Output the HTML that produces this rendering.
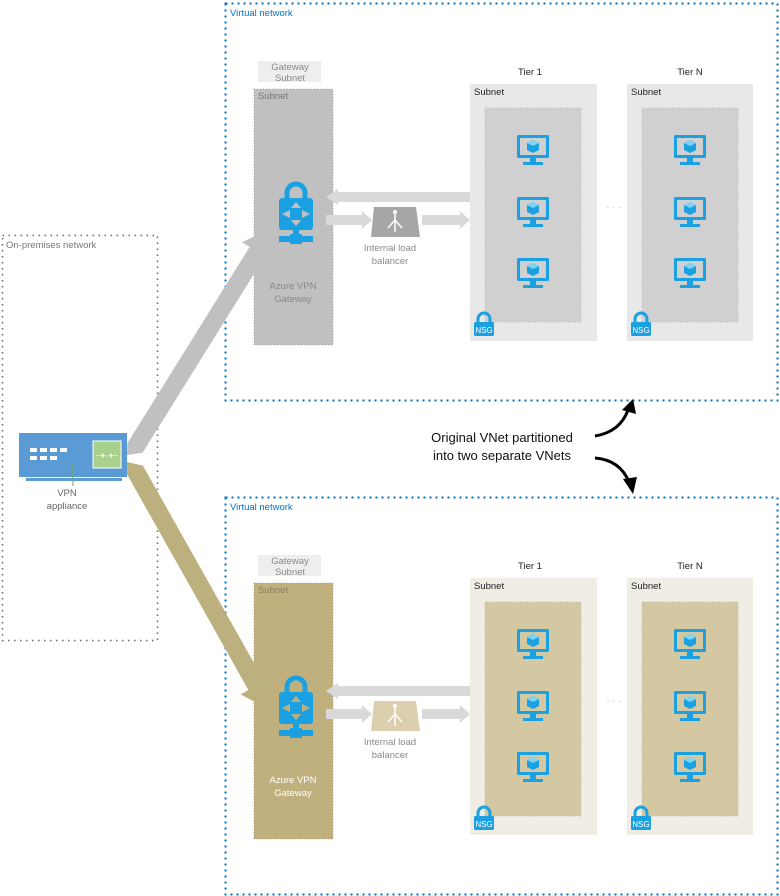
<!DOCTYPE html>
<html><head><meta charset="utf-8"><style>
html,body{margin:0;padding:0;background:#fff}
svg{display:block;font-family:"Liberation Sans",sans-serif}
</style></head><body>
<svg width="780" height="896" viewBox="0 0 780 896" xmlns="http://www.w3.org/2000/svg">
<defs>
<g id="vm">
  <rect x="-16" y="-13" width="32" height="23" rx="1.5" fill="#1ba1e2"/>
  <rect x="-13" y="-10" width="26" height="17" fill="var(--bg,#d0d0d0)"/>
  <polygon points="0,-8 6,-5 6,2 0,5 -6,2 -6,-5" fill="#1ba1e2"/>
  <polygon points="0,-8 6,-5 0,-2 -6,-5" fill="#7fd3f7"/>
  <rect x="-3" y="10" width="6" height="4" fill="#1ba1e2"/>
  <rect x="-10" y="14" width="20" height="3" fill="#1ba1e2"/>
</g>
<g id="nsg">
  <path d="M4,10 v-4 a6,6 0 0 1 12,0 v4" fill="none" stroke="#1ba1e2" stroke-width="3"/>
  <rect x="0" y="9" width="20" height="14" rx="1.5" fill="#1ba1e2"/>
  <text x="10" y="20" font-size="8" fill="#fff" text-anchor="middle">NSG</text>
</g>
<g id="vpngw">
  <path d="M-9,-16 v-6 a9,9 0 0 1 18,0 v6" fill="none" stroke="#1ba1e2" stroke-width="5"/>
  <rect x="-17" y="-17" width="34" height="32" rx="3" fill="#1ba1e2"/>
  <polygon points="0,-13 5,-7 -5,-7" fill="var(--gw,#c0c0c0)"/>
  <polygon points="0,11 5,5 -5,5" fill="var(--gw,#c0c0c0)"/>
  <polygon points="-14,-1 -6,-5 -6,3" fill="var(--gw,#c0c0c0)"/>
  <polygon points="14,-1 6,-5 6,3" fill="var(--gw,#c0c0c0)"/>
  <rect x="-3" y="15" width="6" height="6" fill="#1ba1e2"/>
  <rect x="-17" y="21" width="34" height="6" fill="#1ba1e2"/>
  <rect x="-6" y="19" width="12" height="10" fill="#1ba1e2"/>
</g>
</defs>

<!-- On-prem -->
<rect x="2.5" y="235.5" width="155" height="405" fill="none" stroke="#666" stroke-width="1.5" stroke-dasharray="1.5 4.5"/>
<text x="6" y="248" font-size="9.5" fill="#777">On-premises network</text>
<rect x="19" y="433" width="108" height="44" fill="#5b9bd5"/>
<rect x="26" y="478" width="96" height="3" fill="#5b9bd5"/>
<rect x="93" y="441" width="28" height="27" fill="#a9d18e" stroke="#fff" stroke-width="1"/>
<text x="107" y="459" font-size="11" fill="#fff" text-anchor="middle">⇢·⇠</text>
<g fill="#fff">
<rect x="30" y="448" width="7" height="4"/><rect x="40" y="448" width="7" height="4"/><rect x="50" y="448" width="7" height="4"/><rect x="60" y="448" width="7" height="4"/>
<rect x="30" y="456" width="7" height="4"/><rect x="40" y="456" width="7" height="4"/><rect x="50" y="456" width="7" height="4"/>
</g>
<line x1="73" y1="463" x2="73" y2="486" stroke="#70ad47" stroke-width="1"/>
<text x="67" y="496" font-size="9.5" fill="#666" text-anchor="middle">VPN</text>
<text x="67" y="509" font-size="9.5" fill="#666" text-anchor="middle">appliance</text>

<!-- VNets -->
<g id="top">
<rect x="225.5" y="3.5" width="552" height="397" fill="none" stroke="#0072c6" stroke-width="2" stroke-dasharray="2 4"/>
<text x="230" y="16" font-size="9.5" fill="#0072c6">Virtual network</text>
<rect x="258" y="61" width="63" height="21" fill="#eeeeee"/>
<text x="290" y="70" font-size="9.5" fill="#888" text-anchor="middle">Gateway</text>
<text x="290" y="81" font-size="9.5" fill="#888" text-anchor="middle">Subnet</text>
<rect x="254" y="89" width="79" height="256" fill="#c0c0c0" stroke="#999" stroke-width="0.8" stroke-dasharray="1 2"/>
<text x="258" y="99" font-size="9.5" fill="#777">Subnet</text>
<use href="#vpngw" x="296" y="215" style="--gw:#c0c0c0"/>
<text x="293" y="289" font-size="9.5" fill="#888" text-anchor="middle">Azure VPN</text>
<text x="293" y="302" font-size="9.5" fill="#888" text-anchor="middle">Gateway</text>
<rect x="470" y="84" width="127" height="257" fill="#e8e8e8"/>
<rect x="627" y="84" width="126" height="257" fill="#e8e8e8"/>
<polygon points="470,192 338,192 338,189 326,197 338,205 338,202 470,202" fill="#d9d9d9"/>
<polygon points="326,215 362,215 362,211 372,220 362,229 362,225 326,225" fill="#d9d9d9"/>
<polygon points="422,215 460,215 460,211 470,220 460,229 460,225 422,225" fill="#d9d9d9"/>
<polygon points="374,207 416,207 420,237 371,237" fill="#a6a6a6"/>
<g stroke="#fff" stroke-width="1.5" fill="none"><line x1="395" y1="212" x2="395" y2="232"/><line x1="395" y1="220" x2="388" y2="228"/><line x1="395" y1="220" x2="402" y2="228"/></g>
<circle cx="395" cy="212" r="2" fill="#fff"/>
<text x="390" y="251" font-size="9.5" fill="#888" text-anchor="middle">Internal load</text>
<text x="390" y="264" font-size="9.5" fill="#888" text-anchor="middle">balancer</text>
<text x="530" y="75" font-size="9.5" fill="#222" text-anchor="middle">Tier 1</text>
<text x="690" y="75" font-size="9.5" fill="#222" text-anchor="middle">Tier N</text>
<text x="474" y="95" font-size="9.5" fill="#222">Subnet</text>
<text x="631" y="95" font-size="9.5" fill="#222">Subnet</text>
<rect x="485" y="108" width="96" height="214" fill="#d0d0d0" stroke="#c0c0d0" stroke-width="0.8" stroke-dasharray="3 2"/>
<rect x="642" y="108" width="96" height="214" fill="#d0d0d0" stroke="#c0c0d0" stroke-width="0.8" stroke-dasharray="3 2"/>
<g style="--bg:#d0d0d0">
<use href="#vm" x="533" y="148"/><use href="#vm" x="533" y="210"/><use href="#vm" x="533" y="271"/>
<use href="#vm" x="690" y="148"/><use href="#vm" x="690" y="210"/><use href="#vm" x="690" y="271"/>
</g>
<use href="#nsg" x="474" y="313"/><use href="#nsg" x="631" y="313"/>
<text x="614" y="210" font-size="10" fill="#bbb" text-anchor="middle">· · ·</text>
</g>

<g transform="translate(0,494)">
<rect x="225.5" y="3.5" width="552" height="397" fill="none" stroke="#0072c6" stroke-width="2" stroke-dasharray="2 4"/>
<text x="230" y="16" font-size="9.5" fill="#0072c6">Virtual network</text>
<rect x="258" y="61" width="63" height="21" fill="#eeeeee"/>
<text x="290" y="70" font-size="9.5" fill="#888" text-anchor="middle">Gateway</text>
<text x="290" y="81" font-size="9.5" fill="#888" text-anchor="middle">Subnet</text>
<rect x="254" y="89" width="79" height="256" fill="#bfb07e" stroke="#999" stroke-width="0.8" stroke-dasharray="1 2"/>
<text x="258" y="99" font-size="9.5" fill="#8a7f5a">Subnet</text>
<use href="#vpngw" x="296" y="215" style="--gw:#bfb07e"/>
<text x="293" y="289" font-size="9.5" fill="#fff" text-anchor="middle">Azure VPN</text>
<text x="293" y="302" font-size="9.5" fill="#fff" text-anchor="middle">Gateway</text>
<rect x="470" y="84" width="127" height="257" fill="#f0ede4"/>
<rect x="627" y="84" width="126" height="257" fill="#f0ede4"/>
<polygon points="470,192 338,192 338,189 326,197 338,205 338,202 470,202" fill="#d9d9d9"/>
<polygon points="326,215 362,215 362,211 372,220 362,229 362,225 326,225" fill="#d9d9d9"/>
<polygon points="422,215 460,215 460,211 470,220 460,229 460,225 422,225" fill="#d9d9d9"/>
<polygon points="374,207 416,207 420,237 371,237" fill="#dccfae"/>
<g stroke="#fff" stroke-width="1.5" fill="none"><line x1="395" y1="212" x2="395" y2="232"/><line x1="395" y1="220" x2="388" y2="228"/><line x1="395" y1="220" x2="402" y2="228"/></g>
<circle cx="395" cy="212" r="2" fill="#fff"/>
<text x="390" y="251" font-size="9.5" fill="#888" text-anchor="middle">Internal load</text>
<text x="390" y="264" font-size="9.5" fill="#888" text-anchor="middle">balancer</text>
<text x="530" y="75" font-size="9.5" fill="#222" text-anchor="middle">Tier 1</text>
<text x="690" y="75" font-size="9.5" fill="#222" text-anchor="middle">Tier N</text>
<text x="474" y="95" font-size="9.5" fill="#222">Subnet</text>
<text x="631" y="95" font-size="9.5" fill="#222">Subnet</text>
<rect x="485" y="108" width="96" height="214" fill="#d3c8a2" stroke="#c0c0c0" stroke-width="0.8" stroke-dasharray="3 2"/>
<rect x="642" y="108" width="96" height="214" fill="#d3c8a2" stroke="#c0c0c0" stroke-width="0.8" stroke-dasharray="3 2"/>
<g style="--bg:#d3c8a2">
<use href="#vm" x="533" y="148"/><use href="#vm" x="533" y="210"/><use href="#vm" x="533" y="271"/>
<use href="#vm" x="690" y="148"/><use href="#vm" x="690" y="210"/><use href="#vm" x="690" y="271"/>
</g>
<use href="#nsg" x="474" y="313"/><use href="#nsg" x="631" y="313"/>
<text x="614" y="210" font-size="10" fill="#bbb" text-anchor="middle">· · ·</text>
</g>

<!-- Big arrows -->
<polygon points="142.6,452.8 264.8,256.6 272.5,261.3 272,228 241.9,242.3 249.6,247 127.4,443.2 127,455" fill="#c0c0c0"/>
<polygon points="142.9,465.6 264.2,681.2 272,676.8 270,710 240.6,694.4 248.4,690 127.1,474.4 127,462" fill="#bdb07f"/>

<!-- Center label -->
<text x="502" y="442" font-size="13" fill="#111" text-anchor="middle">Original VNet partitioned</text>
<text x="502" y="460" font-size="13" fill="#111" text-anchor="middle">into two separate VNets</text>
<path d="M595,436 Q620,432 628,410" fill="none" stroke="#000" stroke-width="3"/>
<polygon points="633,399 636,414 622,410" fill="#000"/>
<path d="M595,458 Q620,460 629,482" fill="none" stroke="#000" stroke-width="3"/>
<polygon points="633,494 623,479 637,477" fill="#000"/>
</svg>
</body></html>
